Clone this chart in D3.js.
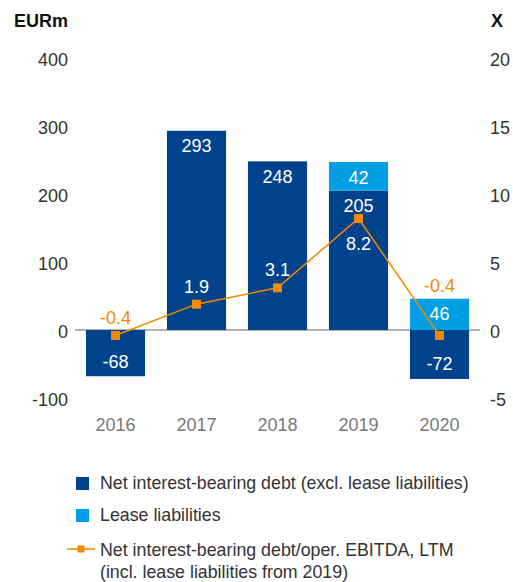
<!DOCTYPE html>
<html>
<head>
<meta charset="utf-8">
<script src="https://cdn.jsdelivr.net/npm/d3@7"></script>
<style>
  body { margin: 0; background: #fff; }
  text { font-family: "Liberation Sans", Arial, sans-serif; }
</style>
</head>
<body>
<div id="chart"></div>
<script>
var years = ["2016", "2017", "2018", "2019", "2020"];
var netDebt = [-68, 293, 248, 205, -72];
var leaseLiab = [0, 0, 0, 42, 46];
var ratio = [-0.4, 1.9, 3.1, 8.2, -0.4];
var leftTicks = [-100, 0, 100, 200, 300, 400];
var rightTicks = [-5, 0, 5, 10, 15, 20];
var legendLabels = [
  "Net interest-bearing debt (excl. lease liabilities)",
  "Lease liabilities",
  "Net interest-bearing debt/oper. EBITDA, LTM",
  "(incl. lease liabilities from 2019)"
];

var svgWidth = 513;
var svgHeight = 582;

var darkBlue = "#00428b";
var lightBlue = "#009fe3";
var orange = "#f08a00";

var svg = d3.select("#chart").append("svg")
  .attr("width", svgWidth)
  .attr("height", svgHeight);

// scales
var x = d3.scaleBand()
  .domain(years)
  .range([75, 480])
  .paddingInner(0.27)
  .paddingOuter(0.135);

var y = d3.scaleLinear()
  .domain([-100, 400])
  .range([398, 58]);

var yRight = d3.scaleLinear()
  .domain([-5, 20])
  .range([398, 58]);

// axis titles
svg.append("text")
  .attr("x", 68).attr("y", 27)
  .attr("text-anchor", "end")
  .attr("font-size", "18px")
  .attr("font-weight", "bold")
  .attr("fill", "#111")
  .text("EURm");

svg.append("text")
  .attr("x", 491).attr("y", 27)
  .attr("font-size", "18px")
  .attr("font-weight", "bold")
  .attr("fill", "#111")
  .text("X");

// left axis (plain hyphen for negatives, like the original)
var leftAxis = svg.append("g")
  .attr("transform", "translate(75,0)")
  .call(d3.axisLeft(y).tickValues(leftTicks).tickFormat(d => String(d)).tickSize(0).tickPadding(7));
leftAxis.select(".domain").remove();
leftAxis.selectAll("text")
  .attr("font-size", "18px")
  .attr("font-family", "Liberation Sans, Arial, sans-serif")
  .attr("fill", "#333")
  .attr("dy", "0.42em");

// right axis
var rightAxis = svg.append("g")
  .attr("transform", "translate(480,0)")
  .call(d3.axisRight(yRight).tickValues(rightTicks).tickFormat(d => String(d)).tickSize(0).tickPadding(10));
rightAxis.select(".domain").remove();
rightAxis.selectAll("text")
  .attr("font-size", "18px")
  .attr("font-family", "Liberation Sans, Arial, sans-serif")
  .attr("fill", "#333")
  .attr("dy", "0.42em");

// x axis (year labels)
var xAxis = svg.append("g")
  .attr("transform", "translate(0,431)")
  .call(d3.axisBottom(x).tickSize(0).tickPadding(0));
xAxis.select(".domain").remove();
xAxis.selectAll("text")
  .attr("y", 0)
  .attr("dy", null)
  .attr("font-size", "18px")
  .attr("font-family", "Liberation Sans, Arial, sans-serif")
  .attr("fill", "#7a7a7a");

// zero line
svg.append("line")
  .attr("x1", 75).attr("x2", 480)
  .attr("y1", y(0)).attr("y2", y(0))
  .attr("stroke", "#9a9a9a")
  .attr("stroke-width", 1.5);

var rows = years.map(function(yr, i) {
  return { year: yr, net: netDebt[i], lease: leaseLiab[i], ratio: ratio[i] };
});

// net debt bars
svg.selectAll(".netBar")
  .data(rows)
  .enter()
  .append("rect")
  .attr("class", "netBar")
  .attr("x", d => x(d.year))
  .attr("width", x.bandwidth())
  .attr("y", d => y(Math.max(0, d.net)))
  .attr("height", d => Math.abs(y(d.net) - y(0)))
  .attr("fill", darkBlue);

// lease bars, stacked on positive net debt
var leaseRows = rows.filter(d => d.lease > 0);
svg.selectAll(".leaseBar")
  .data(leaseRows)
  .enter()
  .append("rect")
  .attr("class", "leaseBar")
  .attr("x", d => x(d.year))
  .attr("width", x.bandwidth())
  .attr("y", d => y(Math.max(0, d.net) + d.lease))
  .attr("height", d => y(Math.max(0, d.net)) - y(Math.max(0, d.net) + d.lease))
  .attr("fill", lightBlue);

// bar labels
svg.selectAll(".netLabel")
  .data(rows)
  .enter()
  .append("text")
  .attr("class", "netLabel")
  .attr("x", d => x(d.year) + x.bandwidth() / 2)
  .attr("y", d => d.net >= 0 ? y(d.net) + 15 : y(d.net) - 15)
  .attr("dy", "0.36em")
  .attr("text-anchor", "middle")
  .attr("font-size", "18px")
  .attr("fill", "#fff")
  .text(d => d.net);

svg.selectAll(".leaseLabel")
  .data(leaseRows)
  .enter()
  .append("text")
  .attr("class", "leaseLabel")
  .attr("x", d => x(d.year) + x.bandwidth() / 2)
  .attr("y", d => y(Math.max(0, d.net) + d.lease) + 15)
  .attr("dy", "0.36em")
  .attr("text-anchor", "middle")
  .attr("font-size", "18px")
  .attr("fill", "#fff")
  .text(d => d.lease);

// ratio line
var line = d3.line()
  .x(d => x(d.year) + x.bandwidth() / 2)
  .y(d => yRight(d.ratio));

svg.append("path")
  .datum(rows)
  .attr("d", line)
  .attr("fill", "none")
  .attr("stroke", orange)
  .attr("stroke-width", 1.5);

svg.selectAll(".marker")
  .data(rows)
  .enter()
  .append("rect")
  .attr("class", "marker")
  .attr("x", d => x(d.year) + x.bandwidth() / 2 - 4.5)
  .attr("y", d => yRight(d.ratio) - 4.5)
  .attr("width", 9)
  .attr("height", 9)
  .attr("fill", orange);

// ratio labels: above the marker, below it when the bar label sits above,
// above the stack when the stack is over the marker
function ratioLabelY(d) {
  if (d.lease > 0 && d.net > 0) return yRight(d.ratio) + 25;
  if (d.lease > 0) return y(d.lease) - 13;
  return yRight(d.ratio) - 18;
}
function ratioLabelColor(d) {
  if (d.lease > 0 && d.net > 0) return "#fff";
  if (d.lease > 0) return orange;
  return d.net > 0 ? "#fff" : orange;
}

svg.selectAll(".ratioLabel")
  .data(rows)
  .enter()
  .append("text")
  .attr("class", "ratioLabel")
  .attr("x", d => x(d.year) + x.bandwidth() / 2)
  .attr("y", ratioLabelY)
  .attr("dy", "0.36em")
  .attr("text-anchor", "middle")
  .attr("font-size", "18px")
  .attr("fill", ratioLabelColor)
  .text(d => d.ratio.toFixed(1));

// legend
var legend = svg.append("g");

legend.append("rect")
  .attr("x", 76).attr("y", 477)
  .attr("width", 13).attr("height", 13)
  .attr("fill", darkBlue);
legend.append("rect")
  .attr("x", 76).attr("y", 509)
  .attr("width", 13).attr("height", 13)
  .attr("fill", lightBlue);
legend.append("line")
  .attr("x1", 67).attr("x2", 95)
  .attr("y1", 549).attr("y2", 549)
  .attr("stroke", orange)
  .attr("stroke-width", 1.5);
legend.append("rect")
  .attr("x", 77.5).attr("y", 545.5)
  .attr("width", 7).attr("height", 7)
  .attr("fill", orange);

var legendY = [489, 521, 556, 578];
legend.selectAll(".legText")
  .data(legendLabels)
  .enter()
  .append("text")
  .attr("class", "legText")
  .attr("x", 100)
  .attr("y", (d, i) => legendY[i])
  .attr("font-size", "17.8px")
  .attr("fill", "#333")
  .text(d => d);
</script>
</body>
</html>
